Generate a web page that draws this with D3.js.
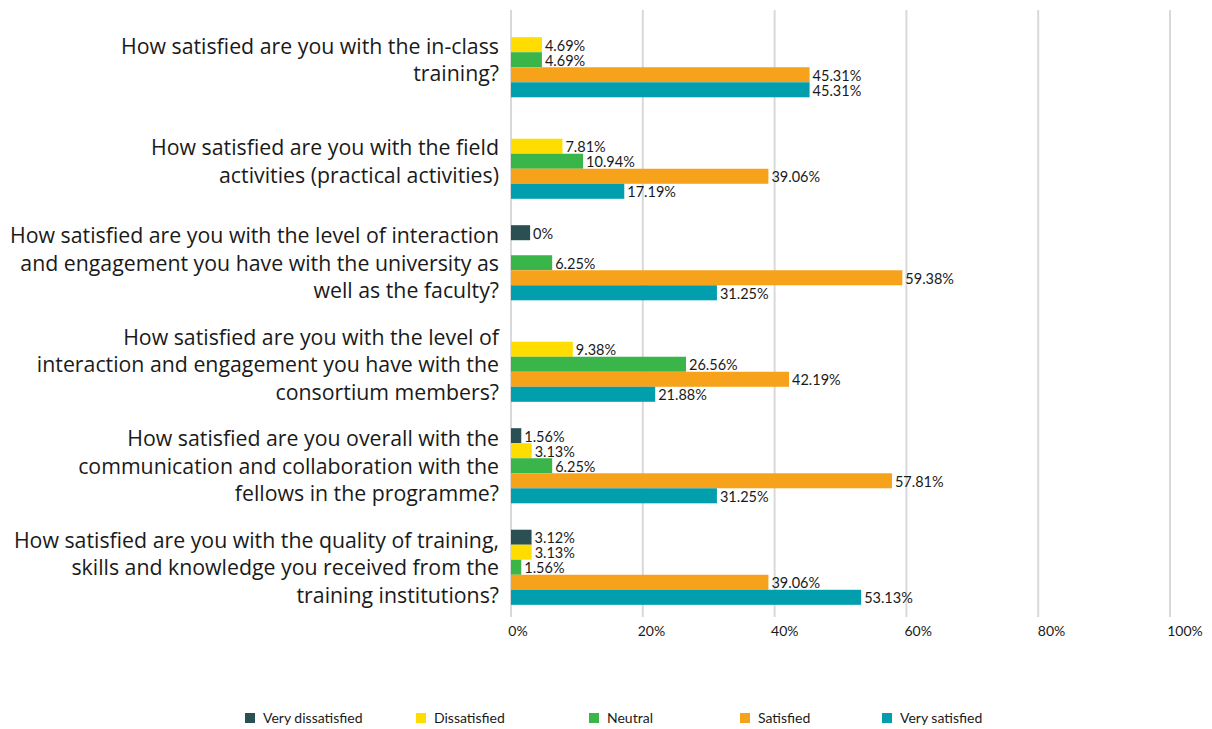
<!DOCTYPE html>
<html>
<head>
<meta charset="utf-8">
<script src="https://cdn.jsdelivr.net/npm/d3@7"></script>
<style>
  body { margin: 0; background: #fff; }
  text { font-family: Lato, "Open Sans", sans-serif; fill: #1a1a1a; }
  .qlabel { font-family: "Open Sans", Lato, sans-serif; }
</style>
</head>
<body>
<div id="chart"></div>
<script>
// Chart data
const questions = [
  ["How satisfied are you with the in-class", "training?"],
  ["How satisfied are you with the field", "activities (practical activities)"],
  ["How satisfied are you with the level of interaction", "and engagement you have with the university as", "well as the faculty?"],
  ["How satisfied are you with the level of", "interaction and engagement you have with the", "consortium members?"],
  ["How satisfied are you overall with the", "communication and collaboration with the", "fellows in the programme?"],
  ["How satisfied are you with the quality of training,", "skills and knowledge you received from the", "training institutions?"]
];
const seriesNames = ["Very dissatisfied", "Dissatisfied", "Neutral", "Satisfied", "Very satisfied"];
const seriesColors = ["#2a5054", "#ffdd00", "#39b54a", "#f7a21b", "#019fae"];

// values per series (null = no bar)
const veryDissatisfied = [null, null, 2.9, null, 1.56, 3.12];
const dissatisfied     = [4.69, 7.81, null, 9.38, 3.13, 3.13];
const neutral          = [4.69, 10.94, 6.25, 26.56, 6.25, 1.56];
const satisfied        = [45.31, 39.06, 59.38, 42.19, 57.81, 39.06];
const verySatisfied    = [45.31, 17.19, 31.25, 21.88, 31.25, 53.13];
// labels shown next to the very dissatisfied bars
const veryDissatisfiedLabels = [null, null, "0%", null, "1.56%", "3.12%"];
const xTicks = [0, 20, 40, 60, 80, 100];

const seriesValues = [veryDissatisfied, dissatisfied, neutral, satisfied, verySatisfied];

const width = 1212, height = 729;
const margin = {left: 511, right: 42, top: 10, bottom: 112};

const svg = d3.select("#chart").append("svg")
    .attr("width", width)
    .attr("height", height);

const x = d3.scaleLinear()
    .domain([0, 100])
    .range([margin.left, width - margin.right]);

const y = d3.scaleBand()
    .domain(d3.range(questions.length))
    .range([margin.top, height - margin.bottom])
    .paddingInner(0.26)
    .paddingOuter(0.12);

const ySub = d3.scaleBand()
    .domain(d3.range(seriesNames.length))
    .range([0, y.bandwidth()]);

// gridlines
svg.append("g")
    .selectAll("line")
    .data(xTicks)
    .enter().append("line")
    .attr("x1", d => x(d)).attr("x2", d => x(d))
    .attr("y1", 10).attr("y2", height - margin.bottom)
    .attr("stroke", "#d9d9d9")
    .attr("stroke-width", 2);

// tick labels
svg.append("g")
    .selectAll("text")
    .data(xTicks)
    .enter().append("text")
    .attr("x", d => x(d) + 7 + d * 0.08)
    .attr("y", 636)
    .attr("text-anchor", "middle")
    .style("font-size", "14px")
    .text(d => d + "%");

// bars
const bars = [];
seriesValues.forEach((vals, s) => {
  vals.forEach((v, q) => {
    if (v === null) return;
    let label = d3.format(".2f")(v) + "%";
    if (s === 0) label = veryDissatisfiedLabels[q];
    bars.push({s, q, v, label});
  });
});

const g = svg.append("g");
g.selectAll("rect")
    .data(bars)
    .enter().append("rect")
    .attr("x", x(0))
    .attr("y", d => y(d.q) + ySub(d.s))
    .attr("width", d => x(d.v) - x(0))
    .attr("height", ySub.bandwidth())
    .attr("fill", d => seriesColors[d.s]);

g.selectAll("text")
    .data(bars)
    .enter().append("text")
    .attr("x", d => x(d.v) + 3)
    .attr("y", d => y(d.q) + ySub(d.s) + ySub.bandwidth() / 2 + 6)
    .style("font-size", "14.5px")
    .text(d => d.label);

// category labels
const qLabels = svg.append("g")
    .selectAll("text")
    .data(questions)
    .enter().append("text")
    .attr("class", "qlabel")
    .attr("text-anchor", "end")
    .style("font-size", "21.3px");

qLabels.each(function(lines, i) {
  const cy = y(i) + y.bandwidth() / 2 + 1;
  const lh = 27.5;
  const top = cy - (lines.length - 1) * lh / 2;
  d3.select(this).selectAll("tspan")
    .data(lines)
    .enter().append("tspan")
    .attr("x", 499)
    .attr("y", (d, k) => top + k * lh + 7)
    .text(d => d);
});

// legend
const legendX = [245, 416, 589, 740, 882];
const legend = svg.append("g")
    .selectAll("g")
    .data(seriesNames)
    .enter().append("g")
    .attr("transform", (d, i) => `translate(${legendX[i]},718)`);

legend.append("rect")
    .attr("x", 0).attr("y", -5)
    .attr("width", 10).attr("height", 10)
    .attr("fill", (d, i) => seriesColors[i]);

legend.append("text")
    .attr("x", 18).attr("y", 5)
    .style("font-size", "14px")
    .text(d => d);
</script>
</body>
</html>
